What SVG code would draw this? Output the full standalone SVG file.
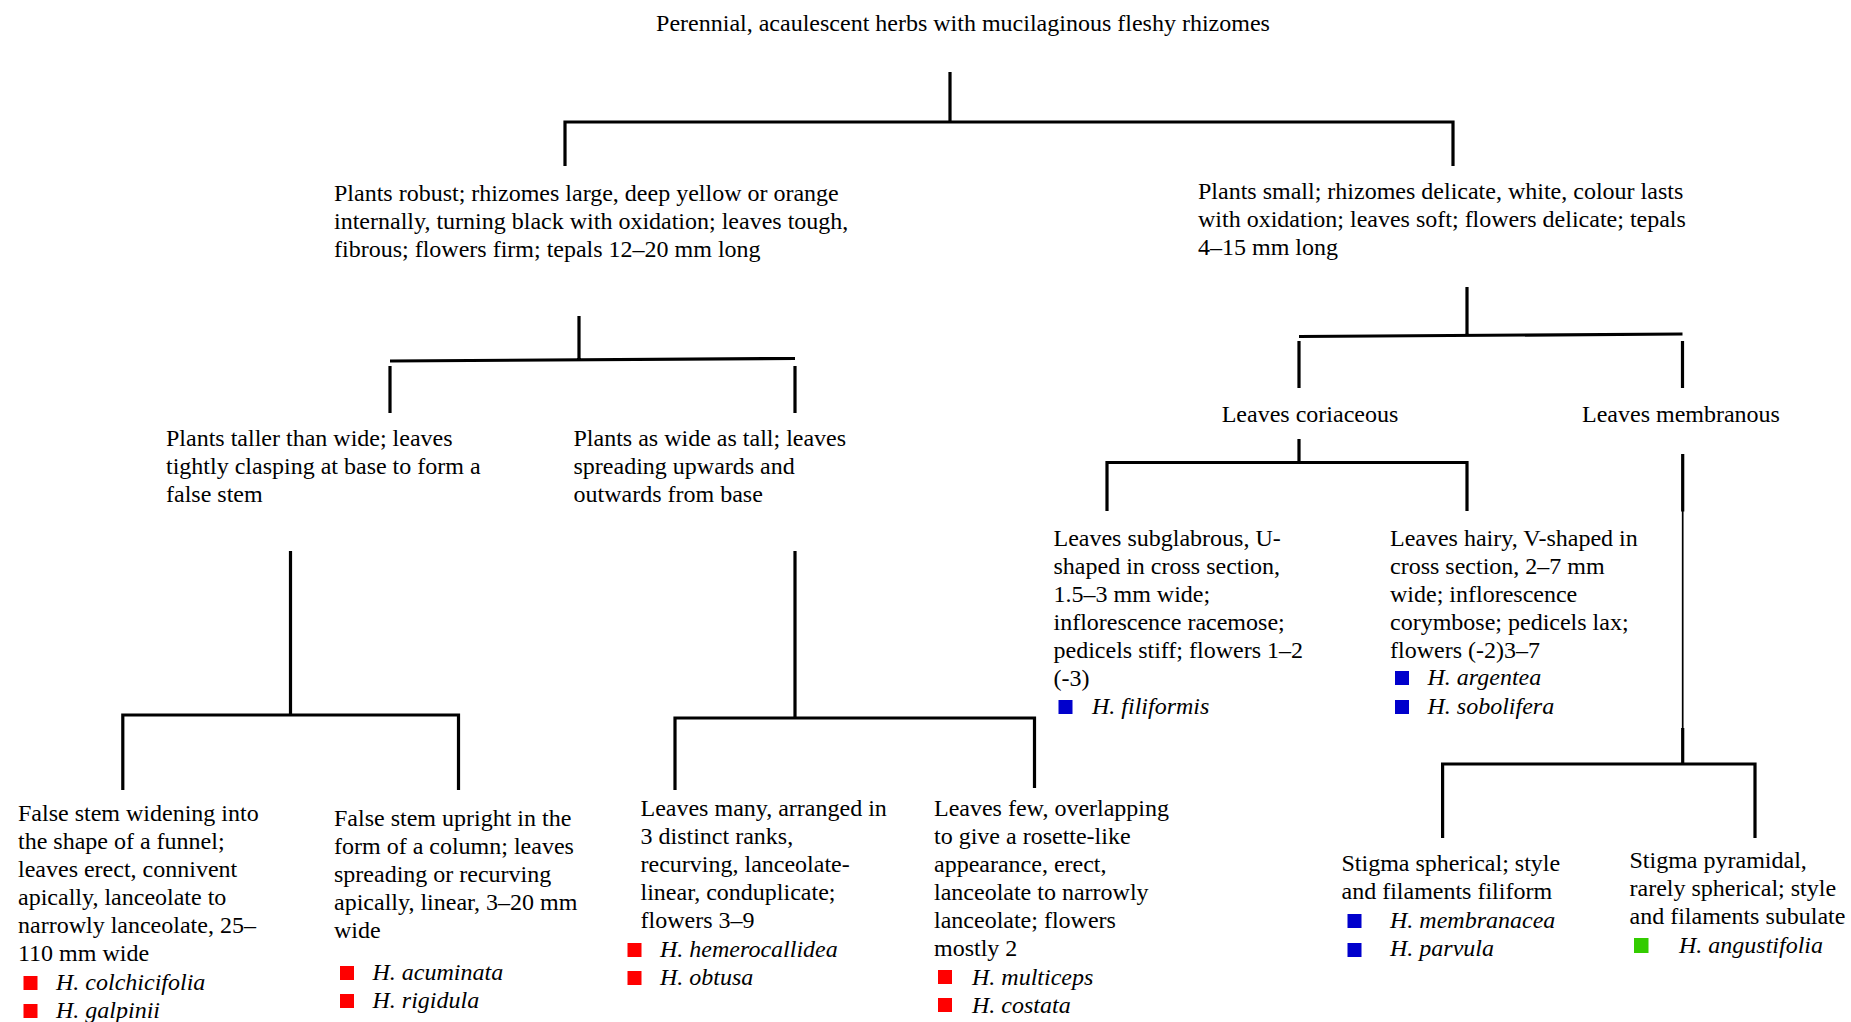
<svg xmlns="http://www.w3.org/2000/svg" width="1851" height="1022" viewBox="0 0 1851 1022">
<style>
text{font-family:"Liberation Serif","Times New Roman",serif;font-size:24px;fill:#000}
.sp{font-style:italic}
.c{stroke:#000;stroke-width:3.2;fill:none;stroke-linecap:butt}
.thin{stroke:#000;stroke-width:1.7;fill:none}
.r{fill:#ff0000}.b{fill:#0000cc}.g{fill:#33cc00}
</style>
<rect width="1851" height="1022" fill="#fff"/>
<g id="connectors">
<path class="c" d="M950 72V122M565 166V122H1453V166"/>
<path class="c" d="M579 316V360M390 361L795 358.5M390 366V413M795 366V413"/>
<path class="c" d="M290.5 551V716M122.8 790V715H458.5V790"/>
<path class="c" d="M795 551V718M675 790V718H1034.5V788"/>
<path class="c" d="M1467 287V335M1299 336.5L1682.5 334M1299 341V388M1682.5 341V388"/>
<path class="c" d="M1299 439V462.5M1107 511V462.5H1467V511"/>
<path class="c" d="M1682.7 454V511.5M1682.7 728V764"/>
<path class="thin" d="M1682.7 511V729"/>
<path class="c" d="M1442.6 838V764H1755V838"/>
</g>
<g id="root"><text x="963" y="31" text-anchor="middle">Perennial, acaulescent herbs with mucilaginous fleshy rhizomes</text></g>
<g id="n-robust"><text x="334" y="201">Plants robust; rhizomes large, deep yellow or orange</text><text x="334" y="229">internally, turning black with oxidation; leaves tough,</text><text x="334" y="257">fibrous; flowers firm; tepals 12–20 mm long</text></g>
<g id="n-small"><text x="1198" y="199">Plants small; rhizomes delicate, white, colour lasts</text><text x="1198" y="227">with oxidation; leaves soft; flowers delicate; tepals</text><text x="1198" y="255">4–15 mm long</text></g>
<g id="n-taller"><text x="166" y="446">Plants taller than wide; leaves</text><text x="166" y="474">tightly clasping at base to form a</text><text x="166" y="502">false stem</text></g>
<g id="n-wide"><text x="573.5" y="446">Plants as wide as tall; leaves</text><text x="573.5" y="474">spreading upwards and</text><text x="573.5" y="502">outwards from base</text></g>
<g id="n-coriaceous"><text x="1310" y="422" text-anchor="middle">Leaves coriaceous</text></g>
<g id="n-membranous"><text x="1681" y="422" text-anchor="middle">Leaves membranous</text></g>
<g id="n-funnel"><text x="18" y="821">False stem widening into</text><text x="18" y="849">the shape of a funnel;</text><text x="18" y="877">leaves erect, connivent</text><text x="18" y="905">apically, lanceolate to</text><text x="18" y="933">narrowly lanceolate, 25–</text><text x="18" y="961">110 mm wide</text>
<rect class="r" x="23.5" y="976" width="14" height="14"/><text class="sp" x="56" y="990">H. colchicifolia</text>
<rect class="r" x="23.5" y="1004" width="14" height="14"/><text class="sp" x="56" y="1018">H. galpinii</text></g>
<g id="n-column"><text x="334" y="826">False stem upright in the</text><text x="334" y="854">form of a column; leaves</text><text x="334" y="882">spreading or recurving</text><text x="334" y="910">apically, linear, 3–20 mm</text><text x="334" y="938">wide</text>
<rect class="r" x="340" y="966" width="14" height="14"/><text class="sp" x="372.5" y="980">H. acuminata</text>
<rect class="r" x="340" y="994" width="14" height="14"/><text class="sp" x="372.5" y="1008">H. rigidula</text></g>
<g id="n-many"><text x="640.5" y="816">Leaves many, arranged in</text><text x="640.5" y="844">3 distinct ranks,</text><text x="640.5" y="872">recurving, lanceolate-</text><text x="640.5" y="900">linear, conduplicate;</text><text x="640.5" y="928">flowers 3–9</text>
<rect class="r" x="627.5" y="943" width="14" height="14"/><text class="sp" x="660" y="957">H. hemerocallidea</text>
<rect class="r" x="627.5" y="971" width="14" height="14"/><text class="sp" x="660" y="985">H. obtusa</text></g>
<g id="n-few"><text x="934" y="816">Leaves few, overlapping</text><text x="934" y="844">to give a rosette-like</text><text x="934" y="872">appearance, erect,</text><text x="934" y="900">lanceolate to narrowly</text><text x="934" y="928">lanceolate; flowers</text><text x="934" y="956">mostly 2</text>
<rect class="r" x="938" y="970" width="14" height="14"/><text class="sp" x="972" y="985">H. multiceps</text>
<rect class="r" x="938" y="998" width="14" height="14"/><text class="sp" x="972" y="1013">H. costata</text></g>
<g id="n-subglabrous"><text x="1053.5" y="546">Leaves subglabrous, U-</text><text x="1053.5" y="574">shaped in cross section,</text><text x="1053.5" y="602">1.5–3 mm wide;</text><text x="1053.5" y="630">inflorescence racemose;</text><text x="1053.5" y="658">pedicels stiff; flowers 1–2</text><text x="1053.5" y="686">(-3)</text>
<rect class="b" x="1058.5" y="700" width="14" height="14"/><text class="sp" x="1092" y="714">H. filiformis</text></g>
<g id="n-hairy"><text x="1390" y="546">Leaves hairy, V-shaped in</text><text x="1390" y="574">cross section, 2–7 mm</text><text x="1390" y="602">wide; inflorescence</text><text x="1390" y="630">corymbose; pedicels lax;</text><text x="1390" y="658">flowers (-2)3–7</text>
<rect class="b" x="1395" y="671" width="14" height="14"/><text class="sp" x="1427.5" y="685">H. argentea</text>
<rect class="b" x="1395" y="700" width="14" height="14"/><text class="sp" x="1427.5" y="714">H. sobolifera</text></g>
<g id="n-spherical"><text x="1341.5" y="871">Stigma spherical; style</text><text x="1341.5" y="899">and filaments filiform</text>
<rect class="b" x="1347.5" y="914" width="14" height="14"/><text class="sp" x="1390" y="928">H. membranacea</text>
<rect class="b" x="1347.5" y="943" width="14" height="14"/><text class="sp" x="1390" y="956">H. parvula</text></g>
<g id="n-pyramidal"><text x="1629.5" y="868">Stigma pyramidal,</text><text x="1629.5" y="896">rarely spherical; style</text><text x="1629.5" y="924">and filaments subulate</text>
<rect class="g" x="1634" y="938" width="14.5" height="15"/><text class="sp" x="1679" y="953">H. angustifolia</text></g>
</svg>
